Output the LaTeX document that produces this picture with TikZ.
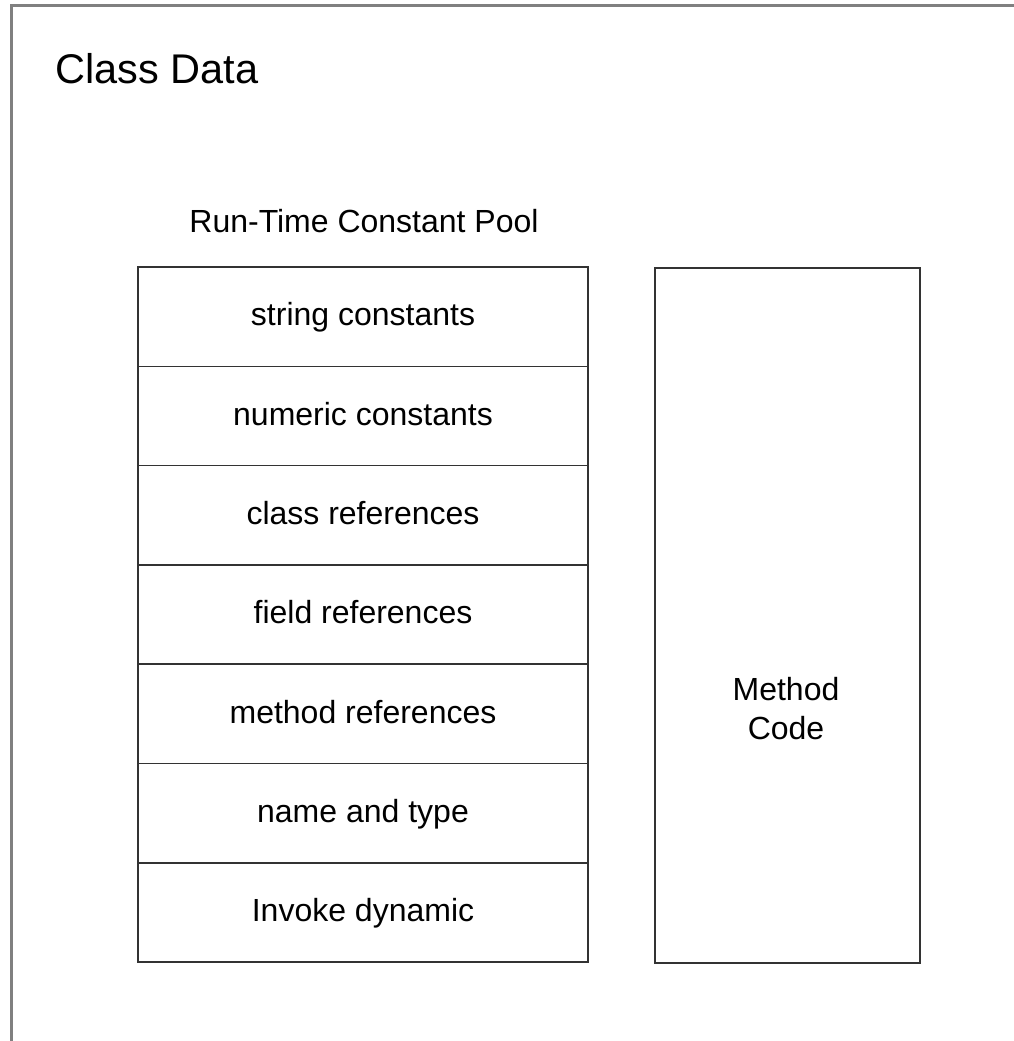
\documentclass[tikz,border=0pt]{standalone}
\usepackage{fontspec}
\setmainfont{Liberation Sans}
\usetikzlibrary{positioning}
\definecolor{framegray}{RGB}{128, 128, 128}
\definecolor{boxdark}{RGB}{51, 51, 51}

\begin{document}
\begin{tikzpicture}[x=1pt, y=-1pt,
    poolrow/.style={draw=boxdark, line width=1.6pt, minimum width=450pt, minimum height=99.3pt,
        inner sep=0pt, outer sep=0pt, text height=24pt, text depth=5.5pt,
        font=\fontsize{32}{38.4}\selectfont}]
    \useasboundingbox (0,0) rectangle (1014,1041);

    % Outer frame (runs off the page)
    \draw[framegray, line width=2.5pt] (11.5,1060) -- (11.5,5.5) -- (1030,5.5);
    \node[anchor=base west, font=\fontsize{41.5}{50}\selectfont] (title) at (52,83) {Class Data};

    % Run-time constant pool
    \node[anchor=base, font=\fontsize{32}{38.4}\selectfont] (pooltitle) at (364,232) {Run-Time Constant Pool};
    \node[poolrow, anchor=north west] (strings) at (138,267) {string constants};
    \node[poolrow, below=0pt of strings] (numerics) {numeric constants};
    \node[poolrow, below=0pt of numerics] (classrefs) {class references};
    \node[poolrow, below=0pt of classrefs] (fieldrefs) {field references};
    \node[poolrow, below=0pt of fieldrefs] (methodrefs) {method references};
    \node[poolrow, below=0pt of methodrefs] (nametype) {name and type};
    \node[poolrow, below=0pt of nametype] (invokedyn) {Invoke dynamic};

    % Method code
    \node[draw=boxdark, line width=1.6pt, anchor=north west, minimum width=265pt, minimum height=695pt,
        inner sep=0pt] (methodbox) at (654,267) {};
    \node[align=center, font=\fontsize{32}{38.4}\selectfont] (methodlabel) at (786,708.5) {Method\\Code};
\end{tikzpicture}
\end{document}
